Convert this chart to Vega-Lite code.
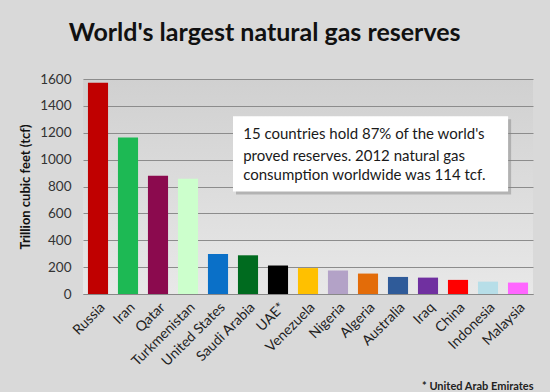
{
  "$schema": "https://vega.github.io/schema/vega-lite/v6.json",
  "width": 450,
  "height": 215,
  "autosize": {"type": "none"},
  "padding": {"left": 83, "top": 79, "right": 17, "bottom": 98},
  "background": "#d9d9d9",
  "config": {
    "font": "Lato",
    "view": {"stroke": null, "fill": {"gradient": "linear", "x1": 0, "y1": 0, "x2": 0, "y2": 1, "stops": [{"offset": 0, "color": "#d0d0d0"}, {"offset": 1, "color": "#e8e8e8"}]}},
    "axis": {"labelFont": "Lato", "titleFont": "Lato"}
  },
  "title": {
    "text": "World's largest natural gas reserves",
    "font": "Lato",
    "fontSize": 25,
    "fontWeight": "bold",
    "color": "#111111",
    "anchor": "start",
    "frame": "bounds",
    "dx": 49,
    "offset": 26
  },
  "encoding": {
    "y": {
      "field": "tcf",
      "type": "quantitative",
      "scale": {"domain": [0, 1600]},
      "axis": {
        "title": "Trillion cubic feet (tcf)",
        "titleFontSize": 13,
        "titleFontWeight": "bold",
        "titleColor": "#111111",
        "titlePadding": 7,
        "values": [0, 200, 400, 600, 800, 1000, 1200, 1400, 1600],
        "format": "d",
        "labelOverlap": false,
        "labelFontSize": 13.5,
        "labelColor": "#333333",
        "labelPadding": 12,
        "ticks": false,
        "domain": false,
        "gridColor": "#8c8c8c",
        "gridWidth": 1
      }
    }
  },
  "layer": [
    {
      "data": {"values": [
        {"country": "Russia", "tcf": 1572, "color": "#c00000"},
        {"country": "Iran", "tcf": 1165, "color": "#1db954"},
        {"country": "Qatar", "tcf": 880, "color": "#8b0a4e"},
        {"country": "Turkmenistan", "tcf": 858, "color": "#ccffcc"},
        {"country": "United States", "tcf": 297, "color": "#0a70c8"},
        {"country": "Saudi Arabia", "tcf": 288, "color": "#006b1f"},
        {"country": "UAE*", "tcf": 212, "color": "#000000"},
        {"country": "Venezuela", "tcf": 193, "color": "#ffc000"},
        {"country": "Nigeria", "tcf": 175, "color": "#b3a2c7"},
        {"country": "Algeria", "tcf": 152, "color": "#e36c09"},
        {"country": "Australia", "tcf": 127, "color": "#2f5b99"},
        {"country": "Iraq", "tcf": 122, "color": "#7030a0"},
        {"country": "China", "tcf": 105, "color": "#ff0000"},
        {"country": "Indonesia", "tcf": 92, "color": "#b7dee8"},
        {"country": "Malaysia", "tcf": 85, "color": "#ff66ff"}
      ]},
      "mark": {"type": "bar"},
      "encoding": {
        "x": {
          "field": "country",
          "type": "nominal",
          "sort": null,
          "scale": {"paddingInner": 0.33, "paddingOuter": 0.165},
          "axis": {
            "title": "* United Arab Emirates",
            "titleFontSize": 11,
            "titleFontWeight": "bold",
            "titleColor": "#222222",
            "titleAnchor": "end",
            "titleBaseline": "middle",
            "titleY": 92,
            "labelAngle": -45,
            "labelAlign": "right",
            "labelBaseline": "top",
            "labelFontSize": 14,
            "labelColor": "#222222",
            "labelPadding": 6,
            "ticks": false,
            "domainColor": "#888888",
            "labelOverlap": false
          }
        },
        "color": {"field": "color", "type": "nominal", "scale": null, "legend": null}
      }
    },
    {
      "data": {"values": [{"x": 5.0, "x2": 14.17, "tcf": 762, "tcf2": 1322}]},
      "mark": {"type": "rect", "fill": "#808080", "opacity": 0.45, "xOffset": 3, "yOffset": 3, "x2Offset": 3, "y2Offset": 3},
      "encoding": {
        "x": {"field": "x", "type": "quantitative", "scale": {"domain": [0, 15]}, "axis": null},
        "x2": {"field": "x2"},
        "y2": {"field": "tcf2"}
      }
    },
    {
      "data": {"values": [{"x": 5.0, "x2": 14.17, "tcf": 762, "tcf2": 1322}]},
      "mark": {"type": "rect", "fill": "#ffffff"},
      "encoding": {
        "x": {"field": "x", "type": "quantitative", "scale": {"domain": [0, 15]}, "axis": null},
        "x2": {"field": "x2"},
        "y2": {"field": "tcf2"}
      }
    },
    {
      "data": {"values": [
        {"x": 5.34, "tcf": 1193, "line": "15 countries hold 87% of the world's"},
        {"x": 5.34, "tcf": 1030, "line": "proved reserves.  2012 natural gas"},
        {"x": 5.34, "tcf": 887, "line": "consumption worldwide was 114 tcf."}
      ]},
      "mark": {"type": "text", "align": "left", "baseline": "middle", "fontSize": 15, "font": "Lato", "color": "#1a1a1a"},
      "encoding": {
        "x": {"field": "x", "type": "quantitative", "scale": {"domain": [0, 15]}, "axis": null},
        "text": {"field": "line"}
      }
    }
  ],
  "resolve": {"scale": {"x": "independent"}}
}
